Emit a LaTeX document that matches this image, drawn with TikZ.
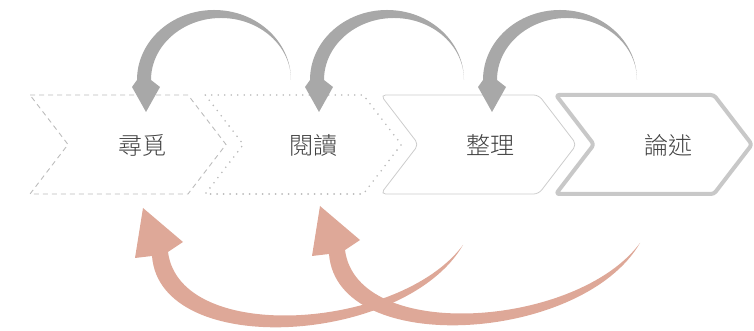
\documentclass[tikz,border=0pt]{standalone}
\usepackage{fontspec}
\newfontfamily\cjk{Noto Sans CJK TC Light}
\usetikzlibrary{positioning}
\usetikzlibrary{calc}

\definecolor{edgegray}{RGB}{188,188,188}
\definecolor{loopgray}{RGB}{168,168,168}
\definecolor{backpink}{RGB}{222,168,152}

\tikzset{
	chevA/.style={draw=edgegray, line width=0.9pt, dash pattern=on 5pt off 4pt},
	chevB/.style={draw=gray!55, line width=1.8pt, dash pattern=on 0pt off 6.5pt, line cap=round},
	chevC/.style={draw=gray!40, line width=0.8pt, rounded corners=5pt},
	chevD/.style={draw={rgb,255:red,200;green,200;blue,200}, line width=4pt, rounded corners=3pt, line join=round},
	lbl/.style={font=\cjk\fontsize{24}{24}\selectfont, text=black!75},
}

\begin{document}
\begin{tikzpicture}[x=1pt,y=1pt]
		\useasboundingbox (0,0) rectangle (754,331);

		% Draw the chevrons
		\foreach \x/\s in {30/chevA, 205.3/chevB, 380.6/chevC, 555.9/chevD}
			\draw[\s] (\x,236) -- ++(158,0) -- ++(38,-49.5) -- ++(-38,-49.5) -- ++(-158,0) -- ++(38,49.5) -- cycle;

		% Labels of the steps
		\node[lbl] (seek) at (142,186) {尋覓};
		\node[lbl] (read) at (313,186) {閱讀};
		\node[lbl] (sort) at (490,186) {整理};
		\node[lbl] (argue) at (668,186) {論述};

		% Define the tails of the arrows
		\coordinate (back1) at (291,251);
		\coordinate (back2) at (464,251);
		\coordinate (back3) at (637,251);
		\coordinate (fwd1) at (463,86);
		\coordinate (fwd2) at (640,88);

		% Arrows back over the top
		\foreach \t in {back1, back2, back3}
			\fill[loopgray] (\t) arc[start angle=0, end angle=180, x radius=77, y radius=70]
				-- ++(-5,-7) -- ++(14,-25) -- ++(14,25) -- ++(-9,7)
				arc[start angle=180, end angle=0, x radius=70, y radius=62] -- cycle;

		% Arrows back under the bottom
		\foreach \t in {fwd1, fwd2}
			\fill[backpink, shift={(\t)}] (0,0) .. controls (-58,-100) and (-303,-115) .. (-311,-11)
				-- (-328,-13) -- (-320,37) -- (-280,3) -- (-295,-7)
				.. controls (-283,-100) and (-63,-85) .. (0,0) -- cycle;
	\end{tikzpicture}
\end{document}
